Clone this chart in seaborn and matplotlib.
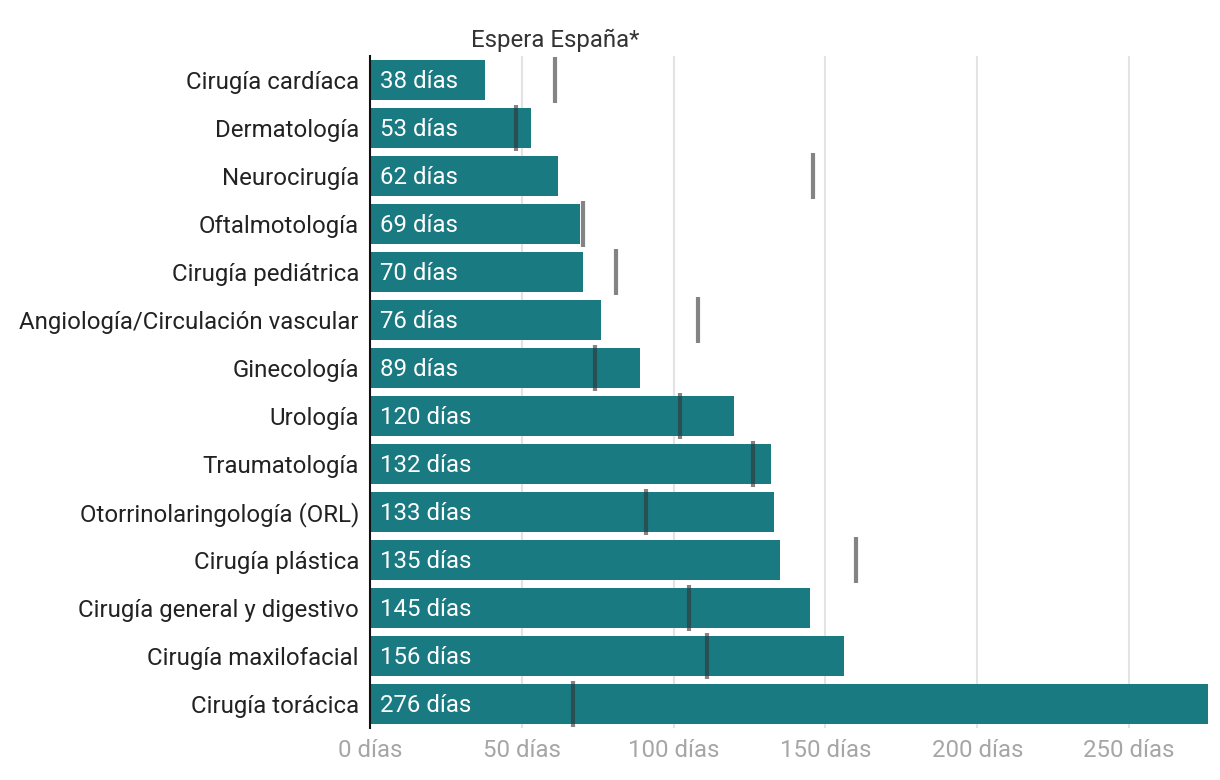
import matplotlib
matplotlib.use('Agg')
import matplotlib.pyplot as plt
import seaborn as sns
import pandas as pd

especialidades = ['Cirugía cardíaca', 'Dermatología', 'Neurocirugía', 'Oftalmotología',
                  'Cirugía pediátrica', 'Angiología/Circulación vascular', 'Ginecología',
                  'Urología', 'Traumatología', 'Otorrinolaringología (ORL)', 'Cirugía plástica',
                  'Cirugía general y digestivo', 'Cirugía maxilofacial', 'Cirugía torácica']
dias = [38, 53, 62, 69, 70, 76, 89, 120, 132, 133, 135, 145, 156, 276]
espera_espana = [61, 48, 146, 70, 81, 108, 74, 102, 126, 91, 160, 105, 111, 67]
ticks = [0, 50, 100, 150, 200, 250]

df = pd.DataFrame({'Especialidad': especialidades, 'Dias': dias, 'Espana': espera_espana})

sns.set_style('white')
plt.rcParams['font.family'] = ['Roboto', 'DejaVu Sans']

fig = plt.figure(figsize=(12.2, 7.8), dpi=100)
ax = fig.add_axes([0.3033, 0.0667, 0.6869, 0.8615])

sns.barplot(data=df, y='Especialidad', x='Dias', orient='h', color='#1a7a82',
            saturation=1, width=0.833, linewidth=0, ax=ax, zorder=2)

# media de espera en España
ax.vlines(df['Espana'], [i - 0.47 for i in range(len(df))], [i + 0.47 for i in range(len(df))],
          colors='#333333', alpha=0.6, linewidth=3, zorder=3)

for i, v in enumerate(dias):
    ax.annotate(f'{v} días', xy=(0, i), xytext=(7, -1.2), textcoords='offset points',
                ha='left', va='center', color='white', fontsize=17.3, zorder=4)

ax.text(espera_espana[0], -0.58, 'Espera España*', ha='center', va='bottom',
        fontsize=17.3, color='#333333', clip_on=False)

ax.set_xlim(0, 276)
ax.set_ylim(len(df) - 0.5, -0.5)
ax.set_xticks(ticks)
ax.set_xticklabels([f'{t} días' for t in ticks])
ax.tick_params(axis='x', length=0, pad=8, labelsize=17.3, labelcolor='#a6a6a6')
ax.tick_params(axis='y', length=0, pad=8, labelsize=17.3, labelcolor='#222222')
ax.set_xlabel('')
ax.set_ylabel('')

for t in ticks[1:]:
    ax.axvline(t, color='#e3e3e3', linewidth=1.5, zorder=1)

for s in ['top', 'right', 'bottom']:
    ax.spines[s].set_visible(False)
ax.spines['left'].set_color('#111111')
ax.spines['left'].set_linewidth(1.5)
ax.spines['left'].set_zorder(5)

fig.savefig('out.png', dpi=100)
